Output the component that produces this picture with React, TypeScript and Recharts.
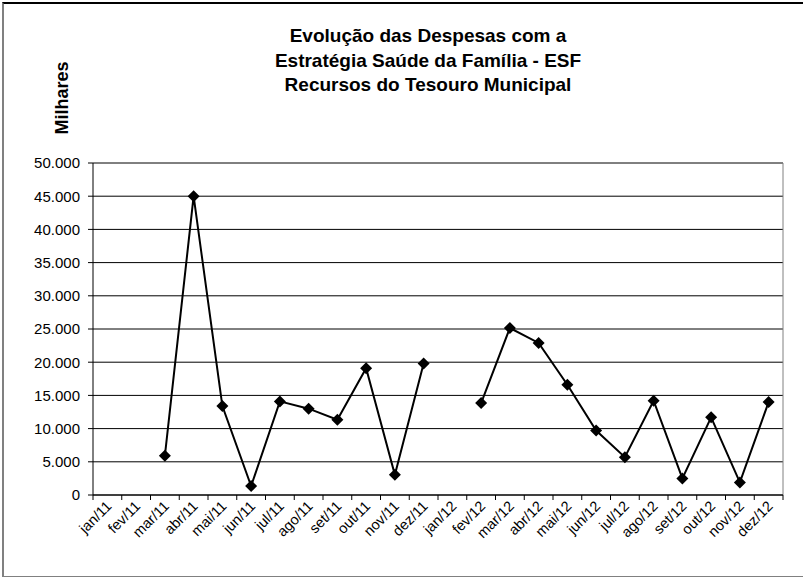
import React from 'react';
import { LineChart, Line, XAxis, YAxis, CartesianGrid } from 'recharts';

const months = [
  'jan/11', 'fev/11', 'mar/11', 'abr/11', 'mai/11', 'jun/11', 'jul/11', 'ago/11', 'set/11', 'out/11', 'nov/11', 'dez/11',
  'jan/12', 'fev/12', 'mar/12', 'abr/12', 'mai/12', 'jun/12', 'jul/12', 'ago/12', 'set/12', 'out/12', 'nov/12', 'dez/12',
];
const despesas: (number | null)[] = [
  null, null, 5900, 45000, 13400, 1350, 14100, 13000, 11350, 19100, 3050, 19800,
  null, 13850, 25150, 22900, 16600, 9700, 5700, 14200, 2500, 11700, 1900, 14000,
];
const yTicks = [0, 5000, 10000, 15000, 20000, 25000, 30000, 35000, 40000, 45000, 50000];
const titleLines = ['Evolução das Despesas com a', 'Estratégia Saúde da Família - ESF', 'Recursos do Tesouro Municipal'];
const yLabel = 'Milhares';

const data = months.map((m, i) => ({ mes: m, valor: despesas[i] }));

const W = 803;
const H = 577;
const MARGIN = { top: 163, right: 20, bottom: 0, left: 0 };
const YAXIS_W = 93;
const XAXIS_H = 82;
const BAND = (W - MARGIN.left - MARGIN.right - YAXIS_W) / months.length;
const FONT = '"Liberation Sans", Arial, sans-serif';

const fmt = (v: number) => (v === 0 ? '0' : `${v / 1000}.000`);

const XTick = (props: any) => {
  const { x, payload, index } = props;
  const axisY = H - XAXIS_H - MARGIN.bottom;
  const tx = x + 5;
  const ty = axisY + 12;
  return (
    <g>
      <line x1={x - BAND / 2} x2={x - BAND / 2} y1={axisY} y2={axisY + 5} stroke="#000" />
      {index === months.length - 1 && (
        <line x1={x + BAND / 2} x2={x + BAND / 2} y1={axisY} y2={axisY + 5} stroke="#000" />
      )}
      <text
        x={tx}
        y={ty}
        transform={`rotate(-45 ${tx} ${ty})`}
        textAnchor="end"
        fontSize={14.5}
        fontFamily={FONT}
        fill="#000"
      >
        {payload.value}
      </text>
    </g>
  );
};

const Diamond = (props: any) => {
  const { cx, cy, index, payload } = props;
  if (payload == null || payload.valor == null || cx == null || cy == null) return <g key={`d${index}`} />;
  const r = 6;
  return <path key={`d${index}`} d={`M${cx},${cy - r}L${cx + r},${cy}L${cx},${cy + r}L${cx - r},${cy}Z`} fill="#000" />;
};

export default function App() {
  return (
    <div style={{ position: 'absolute', left: 0, top: 0, width: W, height: H, overflow: 'hidden', background: '#fff' }}>
      <div
        style={{
          position: 'absolute',
          left: 2,
          top: 2,
          width: 900,
          height: 572,
          borderLeft: '2px solid #808080',
          borderTop: '2px solid #000',
          borderBottom: '2px solid #808080',
        }}
      />
      <LineChart width={W} height={H} data={data} margin={MARGIN}>
        <CartesianGrid horizontal={true} vertical={false} stroke="#000" strokeOpacity={1} />
        <CartesianGrid
          horizontal={false}
          vertical={true}
          stroke="#808080"
          verticalCoordinatesGenerator={({ offset }: any) => [offset.left + offset.width]}
        />
        <XAxis
          dataKey="mes"
          scale="band"
          interval={0}
          height={XAXIS_H}
          tickLine={false}
          axisLine={{ stroke: '#000' }}
          tick={<XTick />}
        />
        <YAxis
          width={YAXIS_W}
          domain={[0, 50000]}
          ticks={yTicks}
          tickFormatter={fmt}
          tickSize={5}
          tickMargin={8}
          axisLine={{ stroke: '#000' }}
          tickLine={{ stroke: '#000' }}
          tick={{ fill: '#000', fontSize: 15, fontFamily: FONT }}
          allowDataOverflow
        />
        <Line
          type="linear"
          dataKey="valor"
          stroke="#000"
          strokeWidth={2}
          dot={<Diamond />}
          activeDot={false}
          connectNulls={false}
          isAnimationActive={false}
        />
      </LineChart>
      <div
        style={{
          position: 'absolute',
          left: 228,
          width: 400,
          top: 24,
          textAlign: 'center',
          fontFamily: FONT,
          fontWeight: 'bold',
          fontSize: 19,
          lineHeight: '24.5px',
          color: '#000',
        }}
      >
        {titleLines.map((t) => (
          <div key={t}>{t}</div>
        ))}
      </div>
      <div
        style={{
          position: 'absolute',
          left: 12,
          top: 88,
          width: 100,
          height: 20,
          lineHeight: '20px',
          textAlign: 'center',
          transform: 'rotate(-90deg)',
          fontFamily: FONT,
          fontWeight: 'bold',
          fontSize: 18,
          color: '#000',
        }}
      >
        {yLabel}
      </div>
    </div>
  );
}
